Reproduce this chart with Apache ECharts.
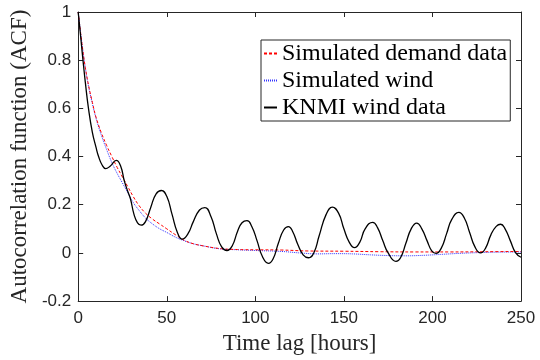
<!DOCTYPE html>
<html>
<head>
<meta charset="utf-8">
<script src="https://cdn.jsdelivr.net/npm/echarts@6/dist/echarts.min.js"></script>
<style>html,body{margin:0;padding:0;background:#fff}#c{width:540px;height:360px}</style>
</head>
<body>
<div id="c"></div>
<script>
var xTicks = [0, 50, 100, 150, 200, 250];
var yTicks = [-0.2, 0, 0.2, 0.4, 0.6, 0.8, 1];

var demandLag = [0, 2, 4, 6, 8, 10, 13, 16, 19, 22, 25, 28, 31, 34, 38, 42, 46, 50, 55, 60, 65, 70, 80, 90, 100, 115, 130, 150, 170, 190, 210, 230, 250];
var demandAcf = [1, 0.875, 0.77, 0.69, 0.625, 0.565, 0.5, 0.447, 0.40, 0.355, 0.315, 0.275, 0.235, 0.2, 0.165, 0.14, 0.12, 0.1, 0.075, 0.052, 0.038, 0.03, 0.018, 0.014, 0.013, 0.012, 0.008, 0.007, 0.005, 0.004, 0.004, 0.005, 0.006];

var windLag = [0, 2, 4, 6, 8, 10, 13, 16, 19, 22, 25, 28, 31, 34, 38, 42, 46, 50, 55, 60, 65, 70, 80, 90, 100, 115, 125, 135, 145, 155, 165, 175, 185, 195, 205, 215, 225, 235, 250];
var windAcf = [1, 0.875, 0.77, 0.685, 0.62, 0.56, 0.49, 0.43, 0.375, 0.33, 0.29, 0.25, 0.21, 0.18, 0.145, 0.12, 0.1, 0.085, 0.065, 0.05, 0.038, 0.03, 0.017, 0.013, 0.01, 0.006, 0.0, -0.004, -0.003, -0.004, -0.008, -0.011, -0.012, -0.01, -0.006, -0.002, 0.001, 0.003, 0.004];

var knmiLag = [0, 1.5, 2.7, 4, 5.8, 8, 10, 11.5, 13.5, 15.5, 18, 21.5, 24, 26, 28, 29.5, 31.5, 33.5, 35.5, 38, 41, 44, 47, 50, 53, 56, 58.7, 62, 65, 68.5, 71.5, 75, 78, 81, 84, 87, 90, 92.5, 95.3, 98, 101, 104, 107.4, 110, 113, 116, 118.7, 121, 124, 127, 130, 133, 136, 140, 143.5, 147, 150, 153, 156, 159, 162, 166.3, 169, 172, 175, 179.4, 182, 185, 188, 191.1, 194, 197, 199.5, 202, 205, 208, 211, 214.9, 218, 221, 224, 227.2, 230, 233, 236, 238.5, 241, 244, 247, 250];
var knmiAcf = [1, 0.89, 0.8, 0.71, 0.6, 0.5, 0.44, 0.4, 0.365, 0.35, 0.36, 0.384, 0.36, 0.3, 0.255, 0.225, 0.16, 0.125, 0.115, 0.13, 0.19, 0.245, 0.259, 0.235, 0.16, 0.085, 0.057, 0.08, 0.13, 0.178, 0.188, 0.15, 0.08, 0.025, 0.01, 0.03, 0.09, 0.125, 0.134, 0.11, 0.05, -0.015, -0.043, -0.025, 0.04, 0.095, 0.109, 0.09, 0.035, -0.008, -0.02, 0.0, 0.07, 0.16, 0.19, 0.165, 0.1, 0.045, 0.022, 0.045, 0.1, 0.127, 0.105, 0.05, 0.0, -0.035, -0.02, 0.04, 0.1, 0.124, 0.1, 0.05, 0.01, -0.002, 0.02, 0.08, 0.14, 0.168, 0.145, 0.085, 0.025, 0.0, 0.02, 0.075, 0.11, 0.119, 0.1, 0.05, 0.0, -0.018];

var seriesNames = ['Simulated demand data', 'Simulated wind', 'KNMI wind data'];

function zip(a, b) { return a.map(function (v, i) { return [v, b[i]]; }); }

var axisColor = '#262626';
var serif = 'Liberation Serif';
var sans = 'Liberation Sans';

var chart = echarts.init(document.getElementById('c'), null, { renderer: 'canvas' });
var xBase = {
  type: 'value', min: xTicks[0], max: xTicks[xTicks.length - 1], interval: xTicks[1] - xTicks[0],
  splitLine: { show: false },
  axisLine: { show: true, onZero: false, lineStyle: { color: axisColor, width: 1 } },
  axisTick: { show: true, inside: true, length: 5, lineStyle: { color: axisColor } }
};
var yBase = {
  type: 'value', min: yTicks[0], max: yTicks[yTicks.length - 1], interval: yTicks[1] - yTicks[0],
  splitLine: { show: false },
  axisLine: { show: true, onZero: false, lineStyle: { color: axisColor, width: 1 } },
  axisTick: { show: true, inside: true, length: 5, lineStyle: { color: axisColor } }
};
chart.setOption({
  animation: false,
  backgroundColor: '#ffffff',
  grid: { left: 75, right: 19, top: 12, bottom: 50, containLabel: false },
  legend: {
    data: seriesNames,
    orient: 'vertical',
    left: 261, top: 40,
    padding: [0, 3, 0, 2],
    itemGap: 0,
    itemWidth: 13, itemHeight: 10,
    borderColor: axisColor, borderWidth: 1,
    backgroundColor: '#ffffff',
    itemStyle: { opacity: 0 },
    textStyle: { fontFamily: serif, fontSize: 24, color: '#000', lineHeight: 27 }
  },
  xAxis: [
    Object.assign({}, xBase, {
      position: 'bottom',
      axisLabel: { show: true, fontFamily: sans, fontSize: 17, color: axisColor, margin: 9 },
      name: 'Time lag [hours]', nameLocation: 'middle', nameGap: 28,
      nameTextStyle: { fontFamily: serif, fontSize: 23, color: axisColor }
    }),
    Object.assign({}, xBase, { position: 'top', axisLabel: { show: false } })
  ],
  yAxis: [
    Object.assign({}, yBase, {
      position: 'left',
      axisLabel: { show: true, fontFamily: sans, fontSize: 17, color: axisColor, margin: 7 },
      name: 'Autocorrelation function (ACF)', nameLocation: 'middle', nameGap: 35,
      nameTextStyle: { fontFamily: serif, fontSize: 23, color: axisColor }
    }),
    Object.assign({}, yBase, { position: 'right', axisLabel: { show: false } })
  ],
  series: [
    {
      name: seriesNames[0], type: 'line', data: zip(demandLag, demandAcf), smooth: 0.4,
      symbol: 'none', lineStyle: { color: '#ff0000', width: 1, type: [3, 2] }, itemStyle: { color: '#ff0000' }, z: 3
    },
    {
      name: seriesNames[1], type: 'line', data: zip(windLag, windAcf), smooth: 0.4,
      symbol: 'none', lineStyle: { color: '#3333ff', width: 1, type: [1, 1] }, itemStyle: { color: '#3333ff' }, z: 2
    },
    {
      name: seriesNames[2], type: 'line', data: zip(knmiLag, knmiAcf), smooth: 0.5,
      symbol: 'none', lineStyle: { color: '#000000', width: 1.3 }, itemStyle: { color: '#000000' }, z: 4
    }
  ]
});
</script>
</body>
</html>
